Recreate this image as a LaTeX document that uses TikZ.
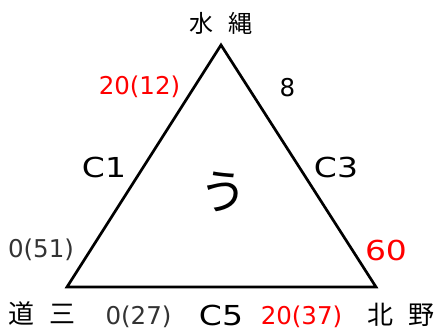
\documentclass[tikz,border=0pt]{standalone}
\usepackage{fontspec}
\setmainfont{DejaVu Sans}
\newfontfamily\wide[FakeStretch=1.2]{DejaVu Sans}
\newfontfamily\jp{Noto Sans CJK JP}
\begin{document}
\begin{tikzpicture}[x=1pt,y=-1pt,
  num/.style={inner sep=0pt,anchor=base,font=\fontsize{24.5}{24.5}\selectfont},
  gray/.style={text=black!80},
  big/.style={inner sep=0pt,anchor=base,font=\wide\fontsize{27.5}{27.5}\selectfont},
  cjk/.style={inner sep=0pt,font=\jp\fontsize{24}{24}\selectfont},
  edge/.style={line width=2.7pt,line join=miter}]
\useasboundingbox (0,0) rectangle (438,334);
\coordinate (T) at (221,45);
\coordinate (L) at (67,287);
\coordinate (R) at (376,287);
\draw[edge] (T) -- (L) -- (R) -- cycle;
\node[cjk] (top) at (221,23) {水\hspace{16pt}縄};
\node[num,text=red] (a) at (139.5,95) {20(12)};
\node[num] (b) at (287.5,96) {8};
\node[big] (c1) at (104,177) {C1};
\node[big] (c3) at (336,177) {C3};
\node[inner sep=0pt,font=\jp\fontsize{48}{48}\selectfont] (u) at (223.5,192) {う};
\node[num,gray] (c) at (41,257) {0(51)};
\node[big,text=red] (d) at (386,260) {60};
\node[cjk,font=\jp\fontsize{26}{26}\selectfont] (bl) at (42,314) {道\hspace{15pt}三};
\node[num,gray] (e) at (138.5,324) {0(27)};
\node[big] (c5) at (221,325) {C5};
\node[num,text=red] (f) at (301.5,324) {20(37)};
\node[cjk,font=\jp\fontsize{26}{26}\selectfont] (br) at (401,315) {北\hspace{15pt}野};
\end{tikzpicture}
\end{document}
